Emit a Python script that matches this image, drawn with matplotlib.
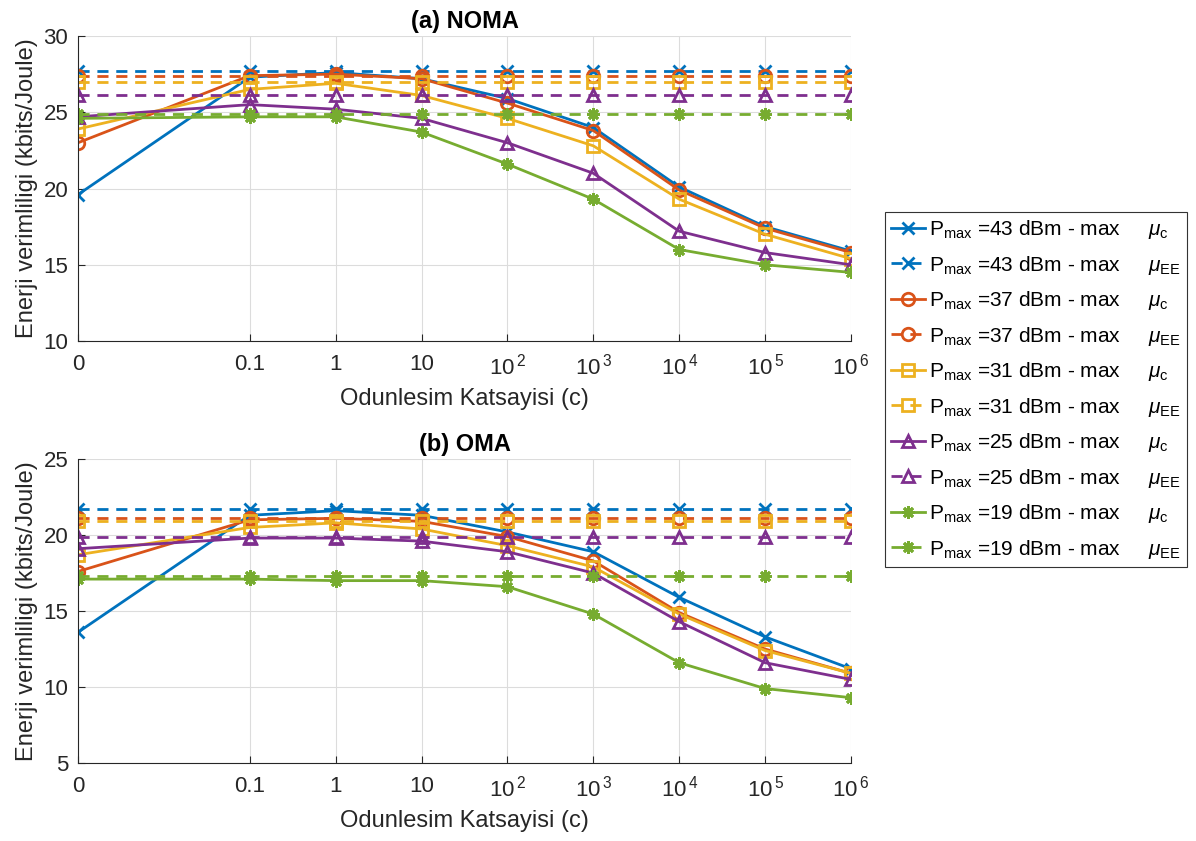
import numpy as np
import matplotlib.pyplot as plt
from matplotlib.ticker import FixedLocator, NullLocator

plt.rcParams['font.family'] = ['Liberation Sans', 'DejaVu Sans']
plt.rcParams['mathtext.fontset'] = 'custom'
plt.rcParams['mathtext.rm'] = 'Liberation Sans'
plt.rcParams['mathtext.it'] = 'Liberation Sans:italic'

# x = 0 is drawn at 1e-3 on the log axis (as in the original figure)
c_vals = [1e-3, 0.1, 1, 10, 1e2, 1e3, 1e4, 1e5, 1e6]
c_labels = ['0', '0.1', '1', '10', r'$\mathregular{10^{\,2}}$', r'$\mathregular{10^{\,3}}$',
            r'$\mathregular{10^{\,4}}$', r'$\mathregular{10^{\,5}}$', r'$\mathregular{10^{\,6}}$']

pmax = [43, 37, 31, 25, 19]

# (a) NOMA - max mu_c
noma_c = [
    [19.6, 27.3, 27.6, 27.2, 25.9, 24.0, 20.1, 17.5, 15.9],
    [23.0, 27.4, 27.5, 27.2, 25.6, 23.8, 19.9, 17.4, 15.8],
    [23.9, 26.5, 26.9, 26.1, 24.6, 22.8, 19.3, 17.0, 15.4],
    [24.7, 25.5, 25.2, 24.6, 23.0, 21.0, 17.2, 15.8, 15.0],
    [24.6, 24.7, 24.7, 23.7, 21.6, 19.3, 16.0, 15.0, 14.5],
]
# (a) NOMA - max mu_EE (flat)
noma_ee = [27.7, 27.4, 27.0, 26.1, 24.9]

# (b) OMA - max mu_c
oma_c = [
    [13.6, 21.3, 21.6, 21.3, 20.2, 18.9, 15.9, 13.3, 11.2],
    [17.6, 21.0, 21.1, 20.9, 19.9, 18.3, 14.9, 12.5, 10.9],
    [18.7, 20.5, 20.8, 20.4, 19.3, 17.9, 14.8, 12.4, 10.9],
    [19.1, 19.8, 19.8, 19.6, 18.9, 17.5, 14.3, 11.6, 10.5],
    [17.1, 17.1, 17.0, 17.0, 16.6, 14.8, 11.6, 9.9, 9.3],
]
# (b) OMA - max mu_EE (flat)
oma_ee = [21.7, 21.1, 20.9, 19.9, 17.3]

colors = ['#0072BD', '#D95319', '#EDB120', '#7E2F8E', '#77AC30']
markers = ['x', 'o', 's', '^', (8, 2, 0)]

fig = plt.figure(figsize=(11.96, 8.41), dpi=100)
ax1 = fig.add_axes([0.0652, 0.5945, 0.6463, 0.3627])
ax2 = fig.add_axes([0.0652, 0.0927, 0.6463, 0.3615])

dark = '#262626'


def draw(ax, sol, ee, title, ylim, yticks):
    n = len(c_vals)
    for i in range(len(pmax)):
        ax.plot(c_vals, sol[i], '-', color=colors[i], marker=markers[i], lw=2,
                ms=9, mew=2, mfc='none',
                label=r'P$_{\mathregular{max}}$ =%d dBm - max     $\mu_{\mathregular{c}}$' % pmax[i])
        ax.plot(c_vals, [ee[i]] * n, color=colors[i], marker=markers[i], lw=2,
                ls=(0, (4, 2.8)), ms=9, mew=2, mfc='none',
                label=r'P$_{\mathregular{max}}$ =%d dBm - max     $\mu_{\mathregular{EE}}$' % pmax[i])
    ax.set_xscale('log')
    ax.set_xlim(1e-3, 1e6)
    ax.set_ylim(*ylim)
    ax.xaxis.set_major_locator(FixedLocator(c_vals))
    ax.xaxis.set_minor_locator(NullLocator())
    ax.set_xticks(c_vals, c_labels)
    ax.set_yticks(yticks)
    ax.grid(True, color='#dcdcdc', lw=0.8)
    ax.set_axisbelow(True)
    for s in ['top', 'right']:
        ax.spines[s].set_visible(False)
    for s in ['left', 'bottom']:
        ax.spines[s].set_color(dark)
        ax.spines[s].set_linewidth(0.8)
    ax.tick_params(direction='in', length=5, width=0.8, color=dark,
                   labelcolor=dark, labelsize=16)
    ax.tick_params(axis='x', pad=9)
    ax.tick_params(axis='y', pad=7)
    ax.set_title(title, fontsize=17, fontweight='bold', pad=6)
    ax.set_xlabel('Odunlesim Katsayisi (c)', fontsize=17, color=dark, labelpad=6)
    ax.set_ylabel('Enerji verimliligi (kbits/Joule)', fontsize=17, color=dark, labelpad=4)


draw(ax1, noma_c, noma_ee, '(a) NOMA', (10, 30), [10, 15, 20, 25, 30])
draw(ax2, oma_c, oma_ee, '(b) OMA', (5, 25), [5, 10, 15, 20, 25])

h, l = ax1.get_legend_handles_labels()
leg = fig.legend(h, l, loc='upper left', bbox_to_anchor=(0.740, 0.748),
                 fontsize=15, frameon=True, fancybox=False, framealpha=1,
                 edgecolor='#333333', borderaxespad=0, handlelength=1.6,
                 handletextpad=0.2, labelspacing=0.6, borderpad=0.3)
leg.get_frame().set_linewidth(0.8)

fig.savefig('out.png', dpi=100)
